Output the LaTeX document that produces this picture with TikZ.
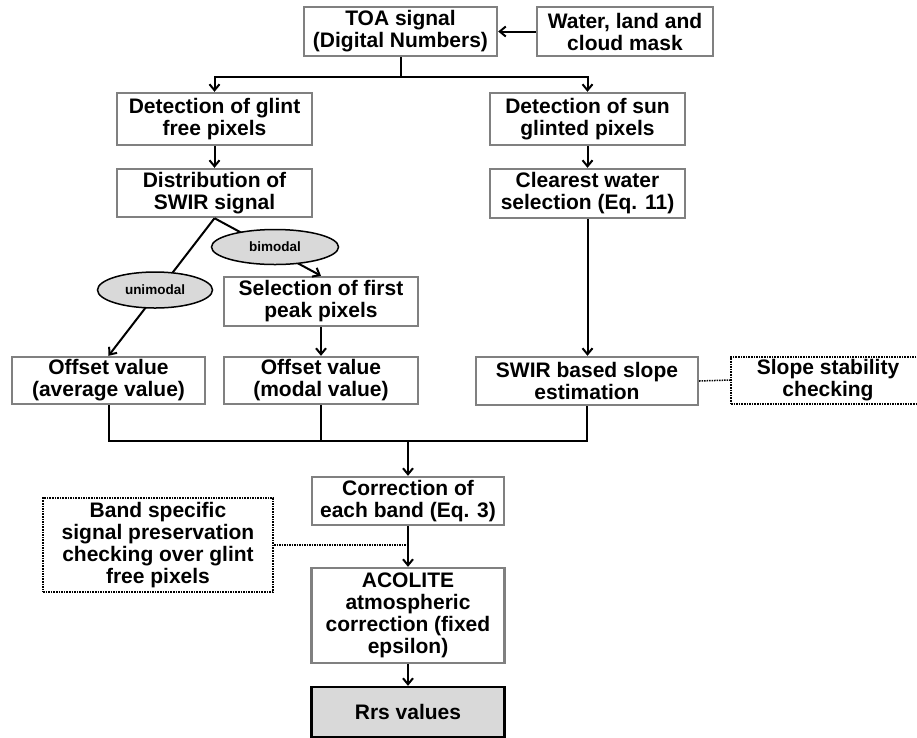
\documentclass[tikz,border=0pt]{standalone}
\usepackage{fontspec}
\setmainfont{Liberation Sans}
\usetikzlibrary{arrows.meta,shapes.geometric}

\definecolor{boxgray}{RGB}{128,128,128}
\definecolor{fillgray}{RGB}{217,217,217}
\newcommand{\boxfont}{\bfseries\fontsize{21}{22}\selectfont}
\newcommand{\ovalfont}{\bfseries\fontsize{13.5}{15}\selectfont}

\tikzset{
  stepbox/.style={draw=boxgray, line width=2.4pt, fill=white, align=center,
    inner sep=0pt, minimum width=194pt, minimum height=48pt, font=\boxfont},
  checkbox/.style={stepbox, draw=black, line width=2pt, dash pattern=on 1.6pt off 1pt},
  resultbox/.style={stepbox, draw=black, fill=fillgray},
  branch/.style={ellipse, draw=black, line width=1.5pt, fill=fillgray,
    inner sep=0pt, font=\ovalfont},
  link/.style={-{Straight Barb[length=6pt,width=10pt]}, line width=2pt},
  joint/.style={line width=2pt},
  dotlink/.style={line width=1.5pt, dash pattern=on 1.5pt off 1pt}
}

\begin{document}
\begin{tikzpicture}[x=1pt, y=-1pt]
  \clip (0,0) rectangle (917,737);
  \fill[white] (0,0) rectangle (917,737);

  % boxes
  \node[stepbox, minimum width=193pt, minimum height=49pt] (toa) at (400.5,31.5) {TOA signal\\(Digital Numbers)};
  \node[stepbox, minimum width=176pt, minimum height=49pt] (mask) at (625,31.5) {Water, land and\\cloud mask};
  \node[stepbox, minimum width=195pt, minimum height=52pt] (glintfree) at (214.5,119) {Detection of glint\\free pixels};
  \node[stepbox, minimum width=195pt, minimum height=52pt] (sunglint) at (587.5,119) {Detection of sun\\glinted pixels};
  \node[stepbox, minimum width=195pt] (swirdist) at (214.5,193) {Distribution of\\SWIR signal};
  \node[stepbox, minimum width=195pt, minimum height=49pt] (clearest) at (587.5,193.5) {Clearest water\\selection (Eq. 11)};
  \node[stepbox, minimum height=49pt] (firstpeak) at (321,301.5) {Selection of first\\peak pixels};
  \node[stepbox, minimum width=193pt, minimum height=47pt] (offavg) at (108.5,380.5) {Offset value\\(average value)};
  \node[stepbox, minimum height=47pt] (offmodal) at (321,380.5) {Offset value\\(modal value)};
  \node[stepbox, minimum width=222pt] (slope) at (587,381) {SWIR based slope\\estimation};
  \node[checkbox, minimum height=47pt] (stability) at (828,380) {Slope stability\\checking};
  \node[stepbox, minimum width=192pt] (correction) at (408,501) {Correction of\\each band (Eq. 3)};
  \node[checkbox, minimum width=230pt, minimum height=94pt] (bandcheck) at (158,545) {Band specific\\signal preservation\\checking over glint\\free pixels};
  \node[stepbox, minimum width=193pt, minimum height=95pt] (acolite) at (408,615.5) {ACOLITE\\atmospheric\\correction (fixed\\epsilon)};
  \node[resultbox, minimum width=193pt, minimum height=50pt] (rrs) at (408,712) {Rrs values};
  \coordinate (merge) at (408,441);

  % connectors
  \draw[link] (mask.west) -- (toa.east);
  \draw[link] (toa.south) -- ++(0,20) -| (glintfree.north);
  \draw[link] (toa.south) -- ++(0,20) -| (sunglint.north);
  \draw[link] (glintfree) -- (swirdist);
  \draw[link] (sunglint) -- (clearest);
  \draw[link] (clearest.south) -- (clearest.south |- slope.north);
  \draw[link] (swirdist.south) -- (offavg.north);
  \draw[link] (swirdist.south) -- (firstpeak.north);
  \draw[link] (firstpeak) -- (offmodal);
  \draw[joint] (offavg.south) |- (merge) -| (slope.south);
  \draw[joint] (offmodal.south) -- (offmodal.south |- merge);
  \draw[link] (merge) -- (correction.north);
  \draw[link] (correction) -- (acolite);
  \draw[link] (acolite) -- (rrs);
  \draw[dotlink] (slope.east) -- (stability.west);
  \draw[dotlink] (bandcheck.east) -- (bandcheck.east -| correction.south);

  % branch labels
  \node[branch, minimum width=127pt, minimum height=35pt] (bimodal) at (275,247) {bimodal};
  \node[branch, minimum width=115pt, minimum height=36pt] (unimodal) at (155,290) {unimodal};
\end{tikzpicture}
\end{document}
